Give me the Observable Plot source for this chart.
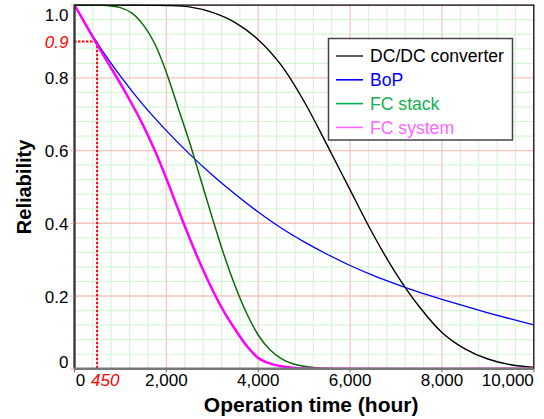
<!DOCTYPE html>
<html>
<head>
<meta charset="utf-8">
<script src="https://cdn.jsdelivr.net/npm/d3@7"></script>
<script src="https://cdn.jsdelivr.net/npm/@observablehq/plot@0.6"></script>
<style>
  html, body { margin: 0; padding: 0; background: #ffffff; }
  #chart svg { display: block; }
</style>
</head>
<body>
<div id="chart"></div>
<script>
// ---------- data ----------
const seriesNames = ["DC/DC converter", "BoP", "FC stack", "FC system"];

const tDcdc = [0, 1000, 1500, 2000, 2500, 3000, 3500, 4000, 4500, 5000, 5500, 6000, 6500, 7000, 7500, 8000, 8500, 9000, 9500, 10000];
const rDcdc = [1, 1, 1, 0.999, 0.995, 0.98, 0.952, 0.905, 0.835, 0.735, 0.615, 0.492, 0.37, 0.262, 0.172, 0.1, 0.055, 0.027, 0.011, 0.004];

const tBop = [0, 500, 1000, 1500, 2000, 2500, 3000, 3500, 4000, 4500, 5000, 5500, 6000, 6500, 7000, 7500, 8000, 8500, 9000, 9500, 10000];
const rBop = [1, 0.895, 0.805, 0.725, 0.655, 0.591, 0.533, 0.48, 0.431, 0.387, 0.349, 0.315, 0.284, 0.257, 0.233, 0.211, 0.191, 0.172, 0.154, 0.137, 0.121];

const tStack = [0, 500, 750, 1000, 1250, 1500, 1750, 2000, 2250, 2500, 2750, 3000, 3250, 3500, 3750, 4000, 4250, 4500, 4750, 5000, 5250, 5500, 6000, 10000];
const rStack = [1, 1, 0.998, 0.993, 0.978, 0.945, 0.893, 0.815, 0.72, 0.625, 0.52, 0.415, 0.315, 0.227, 0.152, 0.093, 0.053, 0.028, 0.014, 0.007, 0.003, 0.001, 0, 0];

const tSys = [0, 250, 500, 750, 1000, 1250, 1500, 1750, 2000, 2250, 2500, 2750, 3000, 3250, 3500, 3750, 4000, 4250, 4500, 4750, 5000, 5500, 10000];
const rSys = [1, 0.945, 0.89, 0.837, 0.784, 0.728, 0.668, 0.6, 0.523, 0.441, 0.361, 0.286, 0.218, 0.158, 0.108, 0.063, 0.03, 0.015, 0.007, 0.003, 0.001, 0, 0];

// marker (0.9 reliability reached at ~450 h)
const markerTime = [492];
const markerRel = [0.9];
const markerTimeLabel = ["450"];
const markerRelLabel = ["0.9"];

// ticks
const xTickValues = [0, 2000, 4000, 6000, 8000, 10000];
const xTickLabels = ["0", "2,000", "4,000", "6,000", "8,000", "10,000"];
const yTickValues = [0, 0.2, 0.4, 0.6, 0.8, 1.0];
const yTickLabels = ["0", "0.2", "0.4", "0.6", "0.8", "1.0"];
const xMinorStep = 400;
const yMinorStep = 0.04;

const xTitle = "Operation time (hour)";
const yTitle = "Reliability";

// ---------- styles ----------
const colors = {"DC/DC converter": "#000000", "BoP": "#0000ff", "FC stack": "#0b6b0b", "FC system": "#ff00ff"};
const widths = {"DC/DC converter": 1.4, "BoP": 1.3, "FC stack": 1.5, "FC system": 2.5};
const legendLineColors = ["#333333", "#0000ff", "#00b050", "#ff66ff"];
const legendTextColors = ["#000000", "#0000ff", "#10b050", "#ff66ff"];
const FONT = "'Liberation Sans', Arial, Helvetica, sans-serif";

// ---------- build tables ----------
const zip = (name, ts, rs) => ts.map((t, i) => ({series: name, t, r: rs[i]}));
const tables = {
  "DC/DC converter": zip("DC/DC converter", tDcdc, rDcdc),
  "BoP": zip("BoP", tBop, rBop),
  "FC stack": zip("FC stack", tStack, rStack),
  "FC system": zip("FC system", tSys, rSys)
};

const xMinor = d3.range(0, 10000 + 1, xMinorStep).filter(v => v % 2000 !== 0);
const yMinor = d3.range(0, 1 + 1e-9, yMinorStep).map(v => +v.toFixed(2)).filter(v => Math.abs(v * 5 - Math.round(v * 5)) > 1e-6);

const xt = xTickValues.map((v, i) => ({v, label: xTickLabels[i], zero: 0}));
const yt = yTickValues.map((v, i) => ({v, label: yTickLabels[i], zero: 0}));
const mT = markerTime.map((v, i) => ({v, label: markerTimeLabel[i], zero: 0}));
const mR = markerRel.map((v, i) => ({v, label: markerRelLabel[i], zero: 0}));

const lineMarks = seriesNames.map(name =>
  Plot.line(tables[name], {x: "t", y: "r", stroke: colors[name], strokeWidth: widths[name], curve: "catmull-rom", clip: true})
);

const chart = Plot.plot({
  width: 544,
  height: 419,
  marginLeft: 74,
  marginRight: 10.7,
  marginTop: 4.6,
  marginBottom: 50.7,
  x: {type: "linear", domain: [0, 10000], axis: null},
  y: {type: "linear", domain: [0, 1], axis: null},
  style: {fontFamily: FONT, background: "#ffffff", color: "#000"},
  marks: [
    // minor grid
    Plot.ruleX(xMinor, {stroke: "#d3f7d3", strokeWidth: 1.2}),
    Plot.ruleY(yMinor, {stroke: "#d3f7d3", strokeWidth: 1.2}),
    // major grid
    Plot.ruleX(xTickValues, {stroke: "#f6cbc3", strokeWidth: 1.4}),
    Plot.ruleY(yTickValues, {stroke: "#f6c3bd", strokeWidth: 1.4}),
    // marker dotted lines
    Plot.ruleY(markerRel, {x1: 0, x2: markerTime[0], stroke: "#ff0000", strokeWidth: 2, strokeDasharray: "2.5,1.5"}),
    Plot.ruleX(markerTime, {y1: 0, y2: markerRel[0], stroke: "#ff0000", strokeWidth: 2, strokeDasharray: "2.5,1.5"}),
    // curves
    ...lineMarks,
    // frame
    Plot.frame({stroke: "#000", strokeWidth: 1.2}),
    // axis lines
    Plot.ruleX([0], {stroke: "#333", strokeWidth: 2.2}),
    Plot.ruleY([0], {stroke: "#777", strokeWidth: 2.6}),
    // ticks
    Plot.axisX(xTickValues, {tickSize: 4, tickFormat: () => "", stroke: "#777", strokeWidth: 1.2}),
    Plot.axisY(yTickValues, {tickSize: 3, tickFormat: () => "", stroke: "#f0b0a8", strokeWidth: 1.2}),
    // x tick labels
    Plot.text(xt.filter(d => d.v === 0), {x: "v", y: "zero", text: "label", dx: 6, dy: 12, fontSize: 17, textAnchor: "middle", lineAnchor: "middle", fill: "#000"}),
    Plot.text(xt.filter(d => d.v > 0 && d.v < 10000), {x: "v", y: "zero", text: "label", dy: 12, fontSize: 17, textAnchor: "middle", lineAnchor: "middle", fill: "#000"}),
    Plot.text(xt.filter(d => d.v === 10000), {x: "v", y: "zero", text: "label", dy: 12, fontSize: 17, textAnchor: "end", lineAnchor: "middle", fill: "#000"}),
    Plot.text(mT, {x: "v", y: "zero", text: "label", dx: -6, dy: 12, fontSize: 17, fontStyle: "italic", textAnchor: "start", lineAnchor: "middle", fill: "#ff0000"}),
    // y tick labels
    Plot.text(yt.filter(d => d.v > 0 && d.v < 1), {x: "zero", y: "v", text: "label", dx: -6, dy: 1, fontSize: 17, textAnchor: "end", lineAnchor: "middle", fill: "#000"}),
    Plot.text(yt.filter(d => d.v === 1), {x: "zero", y: "v", text: "label", dx: -6, dy: 10.5, fontSize: 17, textAnchor: "end", lineAnchor: "middle", fill: "#000"}),
    Plot.text(yt.filter(d => d.v === 0), {x: "zero", y: "v", text: "label", dx: -6, dy: -6, fontSize: 17, textAnchor: "end", lineAnchor: "middle", fill: "#000"}),
    Plot.text(mR, {x: "zero", y: "v", text: "label", dx: -6, dy: 1.5, fontSize: 17, fontStyle: "italic", textAnchor: "end", lineAnchor: "middle", fill: "#ff0000"}),
    // axis titles
    Plot.text([xTitle], {frameAnchor: "bottom", text: d => d, dx: 7, dy: 36, fontSize: 21, fontWeight: "bold", textAnchor: "middle", lineAnchor: "middle", fill: "#000"}),
    Plot.text([yTitle], {frameAnchor: "left", text: d => d, rotate: -90, dx: -50, fontSize: 20, fontWeight: "bold", textAnchor: "middle", lineAnchor: "middle", fill: "#000"})
  ]
});

document.getElementById("chart").appendChild(chart);

// ---------- legend (inside plot, top-right) ----------
const svg = d3.select(chart);
const lg = svg.append("g").attr("font-family", FONT).attr("font-size", 17.6).attr("text-anchor", "start");
lg.append("rect")
  .attr("x", 328.5).attr("y", 38.5).attr("width", 184).attr("height", 101.5)
  .attr("fill", "#fff").attr("stroke", "#444").attr("stroke-width", 1.5);
seriesNames.forEach((name, i) => {
  const cy = 56 + i * 23.8;
  lg.append("line").attr("x1", 336).attr("x2", 363).attr("y1", cy).attr("y2", cy)
    .attr("stroke", legendLineColors[i]).attr("stroke-width", 1.6);
  lg.append("text").attr("x", 370).attr("y", cy).attr("dy", "0.35em")
    .attr("fill", legendTextColors[i]).attr("text-anchor", "start").text(name);
});
</script>
</body>
</html>
